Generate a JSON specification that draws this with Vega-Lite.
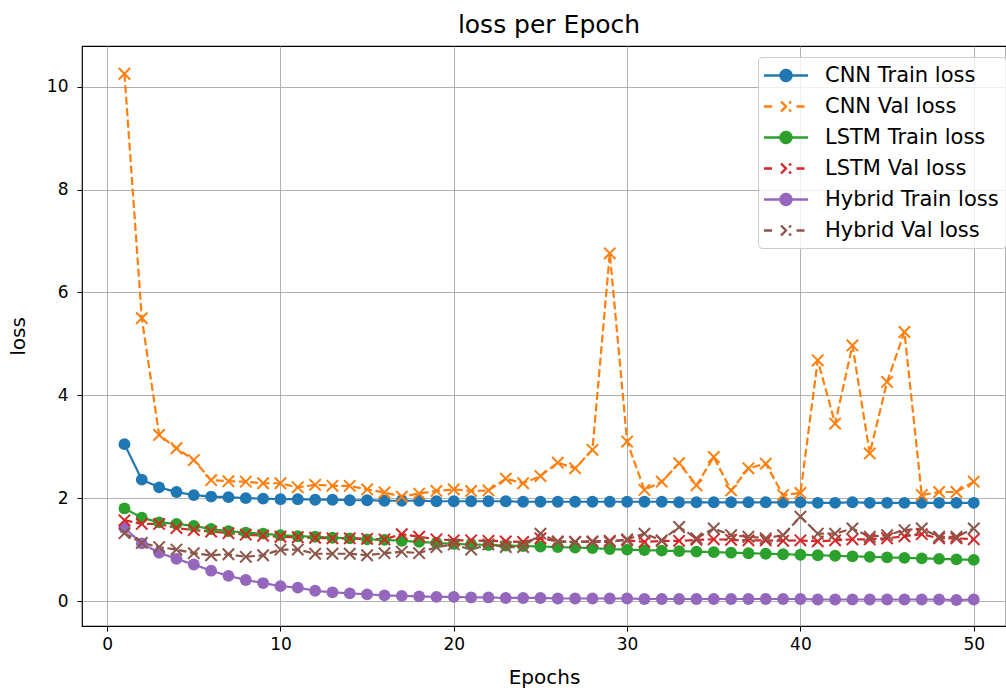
{
  "$schema": "https://vega.github.io/schema/vega-lite/v6.json",
  "width": 924,
  "height": 580,
  "autosize": {"type": "none"},
  "padding": {"left": 82, "top": 46, "right": 0, "bottom": 65},
  "background": "white",
  "config": {
    "font": "DejaVu Sans",
    "view": {"stroke": "#000000", "strokeWidth": 1.2},
    "axis": {
      "grid": true,
      "gridColor": "#b0b0b0",
      "gridWidth": 1,
      "domain": false,
      "tickColor": "#000000",
      "tickSize": 5,
      "tickWidth": 1,
      "labelFont": "DejaVu Sans",
      "labelFontSize": 17,
      "labelColor": "#000000",
      "titleFont": "DejaVu Sans",
      "titleFontSize": 20,
      "titleFontWeight": "normal",
      "titleColor": "#000000"
    }
  },
  "title": {
    "text": "loss per Epoch",
    "fontSize": 25,
    "font": "DejaVu Sans",
    "fontWeight": "normal",
    "color": "#000000",
    "offset": 8,
    "dx": 5
  },
  "data": {
    "values": [
      {"epoch":1,"CNN Train loss":3.05,"CNN Val loss":10.25,"LSTM Train loss":1.80,"LSTM Val loss":1.57,"Hybrid Train loss":1.42,"Hybrid Val loss":1.32},
      {"epoch":2,"CNN Train loss":2.36,"CNN Val loss":5.5,"LSTM Train loss":1.62,"LSTM Val loss":1.50,"Hybrid Train loss":1.12,"Hybrid Val loss":1.13},
      {"epoch":3,"CNN Train loss":2.21,"CNN Val loss":3.23,"LSTM Train loss":1.53,"LSTM Val loss":1.50,"Hybrid Train loss":0.94,"Hybrid Val loss":1.05},
      {"epoch":4,"CNN Train loss":2.12,"CNN Val loss":2.97,"LSTM Train loss":1.50,"LSTM Val loss":1.42,"Hybrid Train loss":0.82,"Hybrid Val loss":1.00},
      {"epoch":5,"CNN Train loss":2.06,"CNN Val loss":2.74,"LSTM Train loss":1.46,"LSTM Val loss":1.38,"Hybrid Train loss":0.71,"Hybrid Val loss":0.93},
      {"epoch":6,"CNN Train loss":2.03,"CNN Val loss":2.35,"LSTM Train loss":1.40,"LSTM Val loss":1.35,"Hybrid Train loss":0.59,"Hybrid Val loss":0.89},
      {"epoch":7,"CNN Train loss":2.02,"CNN Val loss":2.33,"LSTM Train loss":1.36,"LSTM Val loss":1.32,"Hybrid Train loss":0.49,"Hybrid Val loss":0.91},
      {"epoch":8,"CNN Train loss":2.00,"CNN Val loss":2.32,"LSTM Train loss":1.33,"LSTM Val loss":1.29,"Hybrid Train loss":0.41,"Hybrid Val loss":0.86},
      {"epoch":9,"CNN Train loss":1.99,"CNN Val loss":2.29,"LSTM Train loss":1.31,"LSTM Val loss":1.27,"Hybrid Train loss":0.35,"Hybrid Val loss":0.89},
      {"epoch":10,"CNN Train loss":1.98,"CNN Val loss":2.29,"LSTM Train loss":1.28,"LSTM Val loss":1.25,"Hybrid Train loss":0.29,"Hybrid Val loss":1.00},
      {"epoch":11,"CNN Train loss":1.98,"CNN Val loss":2.21,"LSTM Train loss":1.26,"LSTM Val loss":1.24,"Hybrid Train loss":0.26,"Hybrid Val loss":1.00},
      {"epoch":12,"CNN Train loss":1.97,"CNN Val loss":2.26,"LSTM Train loss":1.25,"LSTM Val loss":1.23,"Hybrid Train loss":0.20,"Hybrid Val loss":0.92},
      {"epoch":13,"CNN Train loss":1.97,"CNN Val loss":2.24,"LSTM Train loss":1.23,"LSTM Val loss":1.22,"Hybrid Train loss":0.17,"Hybrid Val loss":0.92},
      {"epoch":14,"CNN Train loss":1.96,"CNN Val loss":2.24,"LSTM Train loss":1.22,"LSTM Val loss":1.22,"Hybrid Train loss":0.15,"Hybrid Val loss":0.92},
      {"epoch":15,"CNN Train loss":1.96,"CNN Val loss":2.17,"LSTM Train loss":1.20,"LSTM Val loss":1.21,"Hybrid Train loss":0.13,"Hybrid Val loss":0.89},
      {"epoch":16,"CNN Train loss":1.95,"CNN Val loss":2.11,"LSTM Train loss":1.19,"LSTM Val loss":1.20,"Hybrid Train loss":0.11,"Hybrid Val loss":0.93},
      {"epoch":17,"CNN Train loss":1.95,"CNN Val loss":2.03,"LSTM Train loss":1.17,"LSTM Val loss":1.30,"Hybrid Train loss":0.10,"Hybrid Val loss":0.96},
      {"epoch":18,"CNN Train loss":1.95,"CNN Val loss":2.09,"LSTM Train loss":1.15,"LSTM Val loss":1.25,"Hybrid Train loss":0.09,"Hybrid Val loss":0.93},
      {"epoch":19,"CNN Train loss":1.94,"CNN Val loss":2.14,"LSTM Train loss":1.13,"LSTM Val loss":1.20,"Hybrid Train loss":0.08,"Hybrid Val loss":1.05},
      {"epoch":20,"CNN Train loss":1.94,"CNN Val loss":2.17,"LSTM Train loss":1.11,"LSTM Val loss":1.18,"Hybrid Train loss":0.08,"Hybrid Val loss":1.10},
      {"epoch":21,"CNN Train loss":1.94,"CNN Val loss":2.14,"LSTM Train loss":1.10,"LSTM Val loss":1.18,"Hybrid Train loss":0.07,"Hybrid Val loss":1.00},
      {"epoch":22,"CNN Train loss":1.94,"CNN Val loss":2.15,"LSTM Train loss":1.09,"LSTM Val loss":1.17,"Hybrid Train loss":0.07,"Hybrid Val loss":1.10},
      {"epoch":23,"CNN Train loss":1.94,"CNN Val loss":2.38,"LSTM Train loss":1.08,"LSTM Val loss":1.16,"Hybrid Train loss":0.06,"Hybrid Val loss":1.05},
      {"epoch":24,"CNN Train loss":1.93,"CNN Val loss":2.29,"LSTM Train loss":1.07,"LSTM Val loss":1.15,"Hybrid Train loss":0.06,"Hybrid Val loss":1.05},
      {"epoch":25,"CNN Train loss":1.93,"CNN Val loss":2.43,"LSTM Train loss":1.06,"LSTM Val loss":1.22,"Hybrid Train loss":0.06,"Hybrid Val loss":1.31},
      {"epoch":26,"CNN Train loss":1.93,"CNN Val loss":2.69,"LSTM Train loss":1.05,"LSTM Val loss":1.16,"Hybrid Train loss":0.05,"Hybrid Val loss":1.15},
      {"epoch":27,"CNN Train loss":1.93,"CNN Val loss":2.58,"LSTM Train loss":1.04,"LSTM Val loss":1.15,"Hybrid Train loss":0.05,"Hybrid Val loss":1.15},
      {"epoch":28,"CNN Train loss":1.93,"CNN Val loss":2.94,"LSTM Train loss":1.03,"LSTM Val loss":1.16,"Hybrid Train loss":0.05,"Hybrid Val loss":1.15},
      {"epoch":29,"CNN Train loss":1.93,"CNN Val loss":6.76,"LSTM Train loss":1.01,"LSTM Val loss":1.17,"Hybrid Train loss":0.05,"Hybrid Val loss":1.15},
      {"epoch":30,"CNN Train loss":1.93,"CNN Val loss":3.10,"LSTM Train loss":1.00,"LSTM Val loss":1.18,"Hybrid Train loss":0.05,"Hybrid Val loss":1.20},
      {"epoch":31,"CNN Train loss":1.93,"CNN Val loss":2.16,"LSTM Train loss":0.99,"LSTM Val loss":1.15,"Hybrid Train loss":0.04,"Hybrid Val loss":1.31},
      {"epoch":32,"CNN Train loss":1.93,"CNN Val loss":2.32,"LSTM Train loss":0.98,"LSTM Val loss":1.17,"Hybrid Train loss":0.04,"Hybrid Val loss":1.18},
      {"epoch":33,"CNN Train loss":1.92,"CNN Val loss":2.68,"LSTM Train loss":0.97,"LSTM Val loss":1.17,"Hybrid Train loss":0.04,"Hybrid Val loss":1.44},
      {"epoch":34,"CNN Train loss":1.92,"CNN Val loss":2.25,"LSTM Train loss":0.96,"LSTM Val loss":1.19,"Hybrid Train loss":0.04,"Hybrid Val loss":1.22},
      {"epoch":35,"CNN Train loss":1.92,"CNN Val loss":2.80,"LSTM Train loss":0.95,"LSTM Val loss":1.20,"Hybrid Train loss":0.04,"Hybrid Val loss":1.41},
      {"epoch":36,"CNN Train loss":1.92,"CNN Val loss":2.15,"LSTM Train loss":0.94,"LSTM Val loss":1.19,"Hybrid Train loss":0.04,"Hybrid Val loss":1.28},
      {"epoch":37,"CNN Train loss":1.92,"CNN Val loss":2.58,"LSTM Train loss":0.93,"LSTM Val loss":1.18,"Hybrid Train loss":0.04,"Hybrid Val loss":1.25},
      {"epoch":38,"CNN Train loss":1.92,"CNN Val loss":2.67,"LSTM Train loss":0.92,"LSTM Val loss":1.18,"Hybrid Train loss":0.04,"Hybrid Val loss":1.22},
      {"epoch":39,"CNN Train loss":1.92,"CNN Val loss":2.06,"LSTM Train loss":0.91,"LSTM Val loss":1.17,"Hybrid Train loss":0.04,"Hybrid Val loss":1.28},
      {"epoch":40,"CNN Train loss":1.92,"CNN Val loss":2.10,"LSTM Train loss":0.90,"LSTM Val loss":1.18,"Hybrid Train loss":0.04,"Hybrid Val loss":1.64},
      {"epoch":41,"CNN Train loss":1.91,"CNN Val loss":4.68,"LSTM Train loss":0.89,"LSTM Val loss":1.16,"Hybrid Train loss":0.03,"Hybrid Val loss":1.31},
      {"epoch":42,"CNN Train loss":1.91,"CNN Val loss":3.45,"LSTM Train loss":0.88,"LSTM Val loss":1.18,"Hybrid Train loss":0.03,"Hybrid Val loss":1.31},
      {"epoch":43,"CNN Train loss":1.92,"CNN Val loss":4.97,"LSTM Train loss":0.87,"LSTM Val loss":1.20,"Hybrid Train loss":0.03,"Hybrid Val loss":1.41},
      {"epoch":44,"CNN Train loss":1.91,"CNN Val loss":2.87,"LSTM Train loss":0.86,"LSTM Val loss":1.20,"Hybrid Train loss":0.03,"Hybrid Val loss":1.25},
      {"epoch":45,"CNN Train loss":1.91,"CNN Val loss":4.26,"LSTM Train loss":0.85,"LSTM Val loss":1.22,"Hybrid Train loss":0.03,"Hybrid Val loss":1.28},
      {"epoch":46,"CNN Train loss":1.91,"CNN Val loss":5.23,"LSTM Train loss":0.84,"LSTM Val loss":1.26,"Hybrid Train loss":0.03,"Hybrid Val loss":1.38},
      {"epoch":47,"CNN Train loss":1.91,"CNN Val loss":2.06,"LSTM Train loss":0.83,"LSTM Val loss":1.30,"Hybrid Train loss":0.03,"Hybrid Val loss":1.41},
      {"epoch":48,"CNN Train loss":1.91,"CNN Val loss":2.12,"LSTM Train loss":0.82,"LSTM Val loss":1.22,"Hybrid Train loss":0.03,"Hybrid Val loss":1.25},
      {"epoch":49,"CNN Train loss":1.91,"CNN Val loss":2.12,"LSTM Train loss":0.81,"LSTM Val loss":1.22,"Hybrid Train loss":0.02,"Hybrid Val loss":1.25},
      {"epoch":50,"CNN Train loss":1.91,"CNN Val loss":2.32,"LSTM Train loss":0.80,"LSTM Val loss":1.20,"Hybrid Train loss":0.03,"Hybrid Val loss":1.41}
    ]
  },
  "transform": [
    {"fold": ["CNN Train loss","CNN Val loss","LSTM Train loss","LSTM Val loss","Hybrid Train loss","Hybrid Val loss"], "as": ["series","loss"]}
  ],
  "encoding": {
    "x": {
      "field": "epoch", "type": "quantitative",
      "scale": {"domain": [-1.45, 51.86], "nice": false, "zero": false},
      "axis": {"values": [0,10,20,30,40,50], "title": "Epochs", "labelPadding": 5, "titlePadding": 15}
    },
    "y": {
      "field": "loss", "type": "quantitative",
      "scale": {"domain": [-0.485, 10.79], "nice": false, "zero": false},
      "axis": {"values": [0,2,4,6,8,10], "title": "loss", "labelPadding": 9, "titlePadding": 18}
    },
    "color": {
      "field": "series", "type": "nominal",
      "scale": {
        "domain": ["CNN Train loss","CNN Val loss","LSTM Train loss","LSTM Val loss","Hybrid Train loss","Hybrid Val loss"],
        "range": ["#1f77b4","#ff7f0e","#2ca02c","#d62728","#9467bd","#8c564b"]
      },
      "legend": {
        "title": null,
        "orient": "none",
        "legendX": 676,
        "legendY": 11,
        "padding": 7,
        "fillColor": "rgba(255,255,255,0.8)",
        "strokeColor": "#cccccc",
        "cornerRadius": 4,
        "labelFont": "DejaVu Sans",
        "labelFontSize": 21,
        "labelColor": "#000000",
        "labelLimit": 400,
        "symbolSize": 400,
        "symbolStrokeWidth": 2.4,
        "rowPadding": 9,
        "labelOffset": 37,
        "encode": {
          "symbols": {
            "update": {
              "shape": {"signal": "indexof(datum.value,'Train')>=0 ? 'M-1.25,0H3.15M0.4,0A0.55,0.55 0 1,1 1.5,0A0.55,0.55 0 1,1 0.4,0Z' : 'M-1.25,0H-0.1M2.0,0H3.15M0.45,-0.5L1.45,0.5M0.45,0.5L1.45,-0.5'"},
              "fill": {"signal": "indexof(datum.value,'Train')>=0 ? scale('color', datum.value) : 'transparent'"},
              "stroke": {"signal": "scale('color', datum.value)"},
              "opacity": {"value": 1},
              "fillOpacity": {"value": 1},
              "strokeOpacity": {"value": 1}
            }
          }
        }
      }
    }
  },
  "layer": [
    {
      "mark": {"type": "line", "strokeWidth": 2.2},
      "encoding": {
        "strokeDash": {
          "field": "series", "type": "nominal",
          "scale": {
            "domain": ["CNN Train loss","CNN Val loss","LSTM Train loss","LSTM Val loss","Hybrid Train loss","Hybrid Val loss"],
            "range": [[1,0],[8,3.5],[1,0],[8,3.5],[1,0],[8,3.5]]
          },
          "legend": null
        }
      }
    },
    {
      "transform": [{"filter": "indexof(datum.series,'Train')>=0"}],
      "mark": {"type": "point", "shape": "circle", "filled": true, "size": 140, "opacity": 1}
    },
    {
      "transform": [{"filter": "indexof(datum.series,'Val')>=0"}],
      "mark": {"type": "point", "shape": "M-1,-1L1,1M-1,1L1,-1", "filled": false, "size": 130, "strokeWidth": 2, "opacity": 1}
    }
  ]
}
